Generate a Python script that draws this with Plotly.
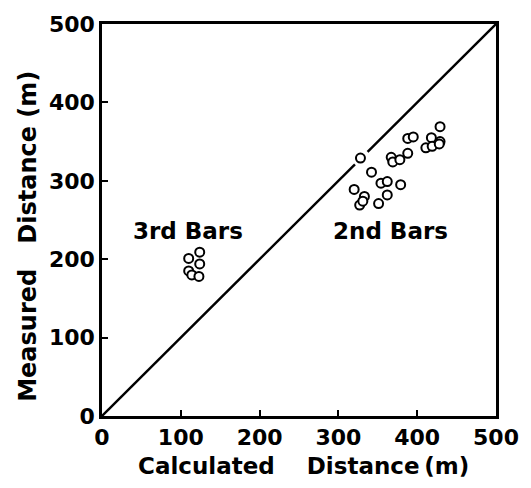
import plotly.graph_objects as go

# 3rd bars cluster (calculated, measured) in metres
third_calc = [110, 124, 124, 110, 114, 123]
third_meas = [201, 209, 194, 185, 180, 178]

# 2nd bars cluster
second_calc = [328, 342, 320, 333, 327, 331, 351, 362, 354, 362, 379, 367, 369, 378,
               388, 388, 395, 411, 418, 419, 429, 428, 429]
second_meas = [329, 311, 289, 280, 269, 274, 271, 282, 297, 299, 295, 330, 324, 327,
               335, 354, 356, 342, 355, 344, 350, 347, 369]

# 1:1 reference line (broken where it passes the circle)
diag_x = [0, 321, None, 337, 500]
diag_y = [0, 321, None, 337, 500]

tick_vals = [0, 100, 200, 300, 400, 500]
tick_text = ["0", "100", "200", "300", "400", "500"]

x_title = "Calculated\u00a0\u00a0\u00a0\u00a0Distance\u2009(m)"
y_title = "Measured\u00a0\u00a0\u00a0Distance (m)"

FONT = "DejaVu Sans"

fig = go.Figure()
fig.add_trace(go.Scatter(x=diag_x, y=diag_y, mode="lines",
                         line=dict(color="black", width=2.4), hoverinfo="skip",
                         showlegend=False))
marker = dict(symbol="circle", size=9, color="white",
              line=dict(color="black", width=2))
fig.add_trace(go.Scatter(x=third_calc, y=third_meas, mode="markers",
                         marker=marker, showlegend=False))
fig.add_trace(go.Scatter(x=second_calc, y=second_meas, mode="markers",
                         marker=marker, showlegend=False))

lab_font = dict(family=FONT, size=23, color="black", weight="bold")
fig.add_annotation(x=109, y=236, text="3rd Bars", showarrow=False,
                   xanchor="center", yanchor="middle", font=lab_font)
fig.add_annotation(x=366, y=236, text="2nd Bars", showarrow=False,
                   xanchor="center", yanchor="middle", font=lab_font)

fig.add_annotation(xref="paper", yref="paper", x=0.512, y=-0.127,
                   text=x_title, showarrow=False,
                   xanchor="center", yanchor="middle",
                   font=dict(family=FONT, size=23, color="black", weight="bold"))
fig.add_annotation(xref="paper", yref="paper", x=-0.187, y=0.458,
                   text=y_title, showarrow=False, textangle=-90,
                   xanchor="center", yanchor="middle",
                   font=dict(family=FONT, size=24, color="black", weight="bold"))

axis_common = dict(range=[0, 500], showgrid=False, zeroline=False,
                   showline=True, mirror=True, linecolor="black", linewidth=2.5,
                   ticks="inside", ticklen=6, tickwidth=2, tickcolor="black",
                   tickvals=tick_vals, ticktext=tick_text,
                   tickfont=dict(family=FONT, size=22, color="black", weight="bold"))

fig.update_layout(
    width=531, height=488,
    margin=dict(l=102, r=27, t=21, b=72),
    paper_bgcolor="white", plot_bgcolor="white",
    xaxis=dict(**axis_common),
    yaxis=dict(**axis_common),
)

fig.write_html("out.html")
